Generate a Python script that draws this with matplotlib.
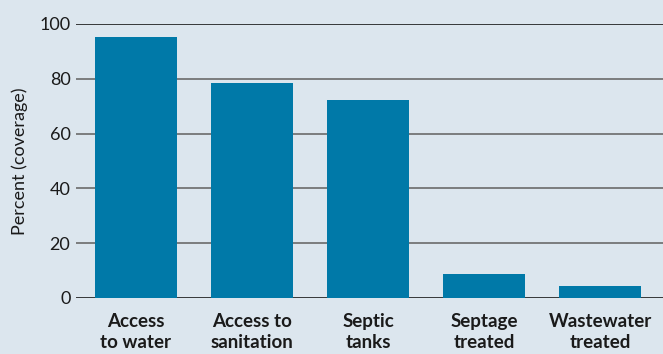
import numpy as np
import matplotlib.pyplot as plt

categories = ["Access\nto water", "Access to\nsanitation", "Septic\ntanks",
              "Septage\ntreated", "Wastewater\ntreated"]
coverage = [95.4, 78.6, 72.4, 8.8, 4.4]
yticks = [0, 20, 40, 60, 80, 100]

bg = "#dce6ee"
plt.rcParams['font.family'] = ['Lato', 'DejaVu Sans']

fig = plt.figure(figsize=(6.63, 3.54), dpi=100, facecolor=bg)
ax = fig.add_axes([76 / 663, 56 / 354, 587 / 663, 274 / 354])
ax.set_facecolor(bg)

x = np.arange(len(categories))
for yv in yticks:
    c = "#1a1a1a" if yv in (0, 100) else "#6b6b6b"
    ax.axhline(yv, color=c, lw=1.2, zorder=1)
ax.bar(x, coverage, width=0.707, color="#0079a8", zorder=2)

ax.set_xlim(-0.517, 4.543)
ax.set_ylim(0, 100)
ax.set_yticks(yticks)
ax.set_xticks(x)
ax.set_xticklabels(categories, fontsize=13.5, fontweight='bold', color="#1a1a1a",
                   linespacing=1.3)
ax.tick_params(axis='both', length=0, colors="#1a1a1a")
ax.tick_params(axis='y', pad=4, labelsize=13)
ax.tick_params(axis='x', pad=11)
for s in ax.spines.values():
    s.set_visible(False)
ax.set_ylabel("Percent (coverage)", fontsize=13, color="#1a1a1a", labelpad=8)

fig.savefig("out.png", dpi=100, facecolor=bg)
